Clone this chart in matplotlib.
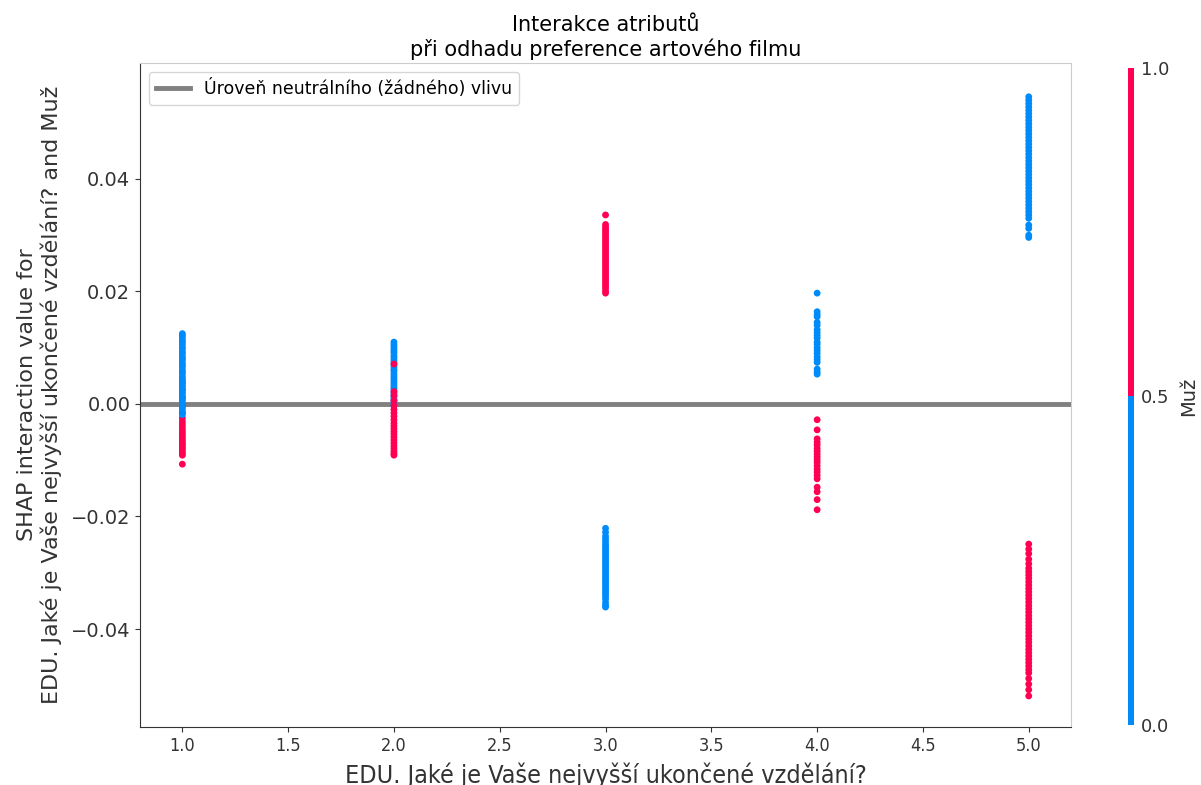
import matplotlib
matplotlib.use("Agg")
import matplotlib.pyplot as plt
from matplotlib.colors import ListedColormap
import numpy as np

# ---- data ----
edu_levels = [1.0, 2.0, 3.0, 4.0, 5.0]

x1_blue = [0.0125, 0.0122, 0.0118, 0.0113, 0.0110, 0.0106, 0.0101, 0.0098, 0.0093, 0.0090,
           0.0085, 0.0081, 0.0078, 0.0073, 0.0069, 0.0066, 0.0061, 0.0057, 0.0054, 0.0049,
           0.0045, 0.0042, 0.0037, 0.0033, 0.0030, 0.0025, 0.0021, 0.0018, 0.0013, 0.0009,
           0.0006, 0.0001, -0.0003, -0.0008, -0.0013, -0.0019]
x1_red = [0.0038, 0.0026, 0.0012, -0.0004, -0.0016, -0.0025, -0.0031, -0.0036, -0.0041,
          -0.0046, -0.0050, -0.0054, -0.0058, -0.0062, -0.0066, -0.0070, -0.0073, -0.0077,
          -0.0080, -0.0084, -0.0088, -0.0091, -0.0107]

x2_blue = [0.0110, 0.0106, 0.0102, 0.0098, 0.0094, 0.0091, 0.0086, 0.0082, 0.0078, 0.0074,
           0.0069, 0.0065, 0.0061, 0.0058, 0.0053, 0.0049, 0.0045, 0.0041, 0.0037, 0.0033,
           0.0029, 0.0026, 0.0021, 0.0017, 0.0013, 0.0009, 0.0005, 0.0001, -0.0004]
x2_red = [0.0071, 0.0022, 0.0015, 0.0006, -0.0003, -0.0010, -0.0016, -0.0022, -0.0028,
          -0.0034, -0.0039, -0.0044, -0.0049, -0.0054, -0.0059, -0.0064, -0.0069, -0.0074,
          -0.0079, -0.0084, -0.0088, -0.0091]

x3_red = [0.0336, 0.0319, 0.0314, 0.0310, 0.0306, 0.0302, 0.0298, 0.0294, 0.0290, 0.0286,
          0.0282, 0.0278, 0.0274, 0.0270, 0.0266, 0.0262, 0.0258, 0.0254, 0.0250, 0.0246,
          0.0242, 0.0238, 0.0234, 0.0230, 0.0226, 0.0222, 0.0218, 0.0214, 0.0210, 0.0206,
          0.0201, 0.0197]
x3_blue = [-0.0221, -0.0228, -0.0235, -0.0240, -0.0245, -0.0250, -0.0254, -0.0258, -0.0262,
           -0.0266, -0.0270, -0.0274, -0.0278, -0.0282, -0.0286, -0.0290, -0.0294, -0.0298,
           -0.0302, -0.0306, -0.0310, -0.0314, -0.0318, -0.0322, -0.0326, -0.0330, -0.0334,
           -0.0338, -0.0342, -0.0347, -0.0353, -0.0358, -0.0361]

x4_blue = [0.0197, 0.0164, 0.0159, 0.0155, 0.0145, 0.0140, 0.0132, 0.0127, 0.0122, 0.0117,
           0.0110, 0.0106, 0.0100, 0.0095, 0.0090, 0.0084, 0.0079, 0.0074, 0.0062, 0.0057,
           0.0053]
x4_red = [-0.0028, -0.0046, -0.0062, -0.0068, -0.0073, -0.0079, -0.0084, -0.0089, -0.0094,
          -0.0099, -0.0104, -0.0110, -0.0116, -0.0121, -0.0127, -0.0133, -0.0148, -0.0156,
          -0.0170, -0.0188]

x5_blue = [0.0546, 0.0540, 0.0534, 0.0528, 0.0522, 0.0516, 0.0510, 0.0504, 0.0498, 0.0492,
           0.0486, 0.0480, 0.0474, 0.0468, 0.0462, 0.0456, 0.0450, 0.0444, 0.0438, 0.0432,
           0.0426, 0.0420, 0.0414, 0.0408, 0.0402, 0.0396, 0.0390, 0.0384, 0.0378, 0.0372,
           0.0366, 0.0360, 0.0354, 0.0348, 0.0342, 0.0336, 0.0330, 0.0318, 0.0312, 0.0300,
           0.0296]
x5_red = [-0.0249, -0.0258, -0.0266, -0.0276, -0.0284, -0.0292, -0.0298, -0.0304, -0.0310,
          -0.0316, -0.0322, -0.0328, -0.0334, -0.0340, -0.0346, -0.0352, -0.0358, -0.0364,
          -0.0370, -0.0376, -0.0382, -0.0388, -0.0394, -0.0400, -0.0406, -0.0412, -0.0418,
          -0.0424, -0.0430, -0.0436, -0.0442, -0.0448, -0.0454, -0.0460, -0.0466, -0.0472,
          -0.0478, -0.0488, -0.0498, -0.0508, -0.0519]

# groups in drawing order: (edu value, Muž value, interaction values)
groups = [
    (1.0, 1, x1_red), (1.0, 0, x1_blue),
    (2.0, 0, x2_blue), (2.0, 1, x2_red),
    (3.0, 1, x3_red), (3.0, 0, x3_blue),
    (4.0, 0, x4_blue), (4.0, 1, x4_red),
    (5.0, 0, x5_blue), (5.0, 1, x5_red),
]

xs, ys, cs = [], [], []
for xv, cv, vals in groups:
    xs += [xv] * len(vals)
    ys += vals
    cs += [cv] * len(vals)

BLUE = "#008bfb"
RED = "#ff0052"
TXT = "#333333"
cmap = ListedColormap([BLUE, RED])

fig = plt.figure(figsize=(12.01, 7.85), dpi=100)
ax = fig.add_axes([0.1166, 0.074, 0.7752, 0.8457])

sc = ax.scatter(xs, ys, c=cs, cmap=cmap, vmin=0, vmax=1, s=24, linewidths=0, zorder=3)
ax.axhline(0, color="grey", lw=3.5, zorder=2, label="Úroveň neutrálního (žádného) vlivu")

ax.set_xlim(0.8, 5.2)
ax.set_ylim(-0.0574, 0.0606)
ax.set_xticks([1.0, 1.5, 2.0, 2.5, 3.0, 3.5, 4.0, 4.5, 5.0])
ax.set_yticks([-0.04, -0.02, 0.0, 0.02, 0.04])
ax.tick_params(color=TXT)
ax.tick_params(axis="y", labelsize=14, labelcolor=TXT)
ax.tick_params(axis="x", labelsize=13, labelcolor=TXT)
for lab in ax.get_xticklabels():
    lab.set_fontstretch("condensed")
for side in ["left", "bottom"]:
    ax.spines[side].set_color(TXT)
for side in ["top", "right"]:
    ax.spines[side].set_color("#cccccc")

ax.set_xlabel("EDU. Jaké je Vaše nejvyšší ukončené vzdělání?", fontsize=18, color=TXT,
              labelpad=6, fontstretch="condensed")
ax.set_ylabel("SHAP interaction value for\nEDU. Jaké je Vaše nejvyšší ukončené vzdělání? and Muž",
              fontsize=16, color=TXT, labelpad=6)
ax.set_title("Interakce atributů\npři odhadu preference artového filmu", fontsize=15, pad=5)
ax.legend(loc="upper left", fontsize=12.5)

cax = fig.add_axes([0.9392, 0.076, 0.005, 0.838])
cb = fig.colorbar(sc, cax=cax, ticks=[0, 0.5, 1])
cb.outline.set_visible(False)
cb.ax.tick_params(length=0, labelsize=13, labelcolor=TXT, pad=5)
cb.set_label("Muž", fontsize=14, color=TXT, labelpad=7)

fig.savefig("out.png", dpi=100)
